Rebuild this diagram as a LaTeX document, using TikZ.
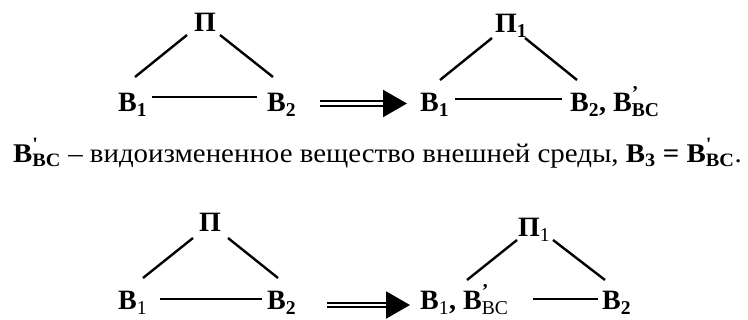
\documentclass[tikz,border=0pt]{standalone}
\usepackage{fontspec}
\setmainfont{Liberation Serif}
\newfontfamily\widefont[FakeStretch=1.07]{Liberation Serif}
\usetikzlibrary{arrows.meta}

\newcommand{\lo}[1]{\textsubscript{#1}}
\newcommand{\vbc}[1][\bfseries]{В\rlap{\raisebox{.12em}{\textsuperscript{'}}}\textsubscript{#1ВС}}

\begin{document}
\begin{tikzpicture}[x=1pt,y=-1pt,
  every node/.style={inner sep=0pt,anchor=base west},
  sym/.style={font=\fontsize{28}{30}\selectfont\bfseries},
  note/.style={font=\widefont\fontsize{27}{30}\selectfont},
  edge/.style={line width=2.4pt},
  imply/.style={double,double distance=2.4pt,line width=2.2pt,
                -{Triangle[length=24pt,width=27pt]}}]
  \useasboundingbox (0,0) rectangle (748,320);

  % before
  \node[sym] (p0) at (194,32) {П};
  \node[sym] (b10) at (118,112) {В\lo{1}};
  \node[sym] (b20) at (267,112) {В\lo{2}};
  \draw[edge] ([shift={(17,-35)}]b10.base west) -- ([shift={(-7,3)}]p0.base west);
  \draw[edge] ([shift={(26,3)}]p0.base west) -- ([shift={(6,-35)}]b20.base west);
  \draw[edge] ([shift={(34,-15)}]b10.base west) -- ([shift={(-10,-15)}]b20.base west);

  % after
  \node[sym] (p1) at (495,33) {П\lo{1}};
  \node[sym] (b11) at (420,112) {В\lo{1}};
  \node[sym] (b21) at (570,112) {В\lo{2}, \vbc};
  \draw[edge] ([shift={(20,-32)}]b11.base west) -- ([shift={(-3,5)}]p1.base west);
  \draw[edge] ([shift={(30,5)}]p1.base west) -- ([shift={(7,-32)}]b21.base west);
  \draw[edge] ([shift={(35,-13)}]b11.base west) -- ([shift={(-8,-13)}]b21.base west);
  \draw[imply] ([shift={(53,-8.5)}]b20.base west) -- ([shift={(-13,-8.5)}]b11.base west);

  \node[note] (def) at (13,163) {\textbf{\vbc} – видоизмененное вещество внешней среды, \textbf{В\lo{3} = \vbc}.};

  % second case
  \node[sym] (p2) at (199,232) {П};
  \node[sym] (b12) at (118,310) {В\lo{\mdseries 1}};
  \node[sym] (b22) at (267,310) {В\lo{2}};
  \draw[edge] ([shift={(25,-32)}]b12.base west) -- ([shift={(-6,6)}]p2.base west);
  \draw[edge] ([shift={(29,6)}]p2.base west) -- ([shift={(11,-32)}]b22.base west);
  \draw[edge] ([shift={(42,-11)}]b12.base west) -- ([shift={(-5,-11)}]b22.base west);

  \node[sym] (p3) at (518,237) {П\lo{\mdseries 1}};
  \node[sym] (b13) at (420,310) {В\lo{\mdseries 1}, \vbc[\mdseries]};
  \node[sym] (b23) at (602,310) {В\lo{2}};
  \draw[edge] ([shift={(47,-30)}]b13.base west) -- ([shift={(-1,3)}]p3.base west);
  \draw[edge] ([shift={(35,3)}]p3.base west) -- ([shift={(3,-30)}]b23.base west);
  \draw[edge] ([shift={(113,-11)}]b13.base west) -- ([shift={(-4,-11)}]b23.base west);
  \draw[imply] ([shift={(60,-5)}]b22.base west) -- ([shift={(-10,-5)}]b13.base west);
\end{tikzpicture}
\end{document}
